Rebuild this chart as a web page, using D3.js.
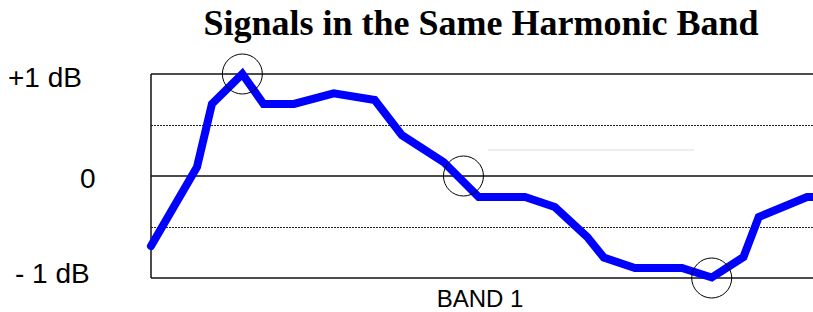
<!DOCTYPE html>
<html>
<head>
<meta charset="utf-8">
<script src="https://cdn.jsdelivr.net/npm/d3@7"></script>
<style>
  html, body { margin: 0; padding: 0; background: #fff; }
  svg { display: block; }
</style>
</head>
<body>
<svg id="chart" width="813" height="312"></svg>
<script>
// ---- data ----
const title = "Signals in the Same Harmonic Band";
const xLabel = "BAND 1";
const signalX = [0, 6.95, 9.2, 13.8, 17.0, 21.6, 27.6, 33.8, 37.9, 44.2, 49.5, 56.5, 61.0, 65.9, 68.4, 73.1, 80.2, 84.7, 89.5, 91.8, 99.1, 100];
const signalDb = [-0.686, 0.088, 0.706, 1.0, 0.706, 0.706, 0.81, 0.745, 0.40, 0.137, -0.206, -0.206, -0.304, -0.598, -0.80, -0.902, -0.902, -0.995, -0.794, -0.402, -0.206, -0.206];
const markerX = [13.8, 47.2, 84.7];
const markerDb = [1, 0, -1];
const tickValues = [1, 0, -1];
const tickLabels = ["+1 dB", "0", "- 1 dB"];
const solidGrid = [1, 0, -1];
const dottedGrid = [0.5, -0.5];
const faintGridDb = 0.255;
const faintGridX = [51, 82];

// ---- layout ----
const svg = d3.select("#chart");
const plotL = 151, plotR = 813, plotT = 74, plotB = 278;
const x = d3.scaleLinear().domain([0, 100]).range([plotL, plotR]);
const y = d3.scaleLinear().domain([-1, 1]).range([plotB, plotT]);

// title
svg.append("text")
  .attr("x", 481).attr("y", 35)
  .attr("text-anchor", "middle")
  .attr("font-family", "'Liberation Serif', 'DejaVu Serif', serif")
  .attr("font-weight", "bold")
  .attr("font-size", 36)
  .attr("fill", "#000")
  .text(title);

// faint gray dotted line
svg.append("line")
  .attr("x1", x(faintGridX[0])).attr("x2", x(faintGridX[1]))
  .attr("y1", y(faintGridDb)).attr("y2", y(faintGridDb))
  .attr("stroke", "#bbbbbb").attr("stroke-width", 1)
  .attr("stroke-dasharray", "1,1");

// dotted grid
svg.selectAll("line.dot").data(dottedGrid).join("line")
  .attr("class", "dot")
  .attr("x1", plotL).attr("x2", plotR)
  .attr("y1", d => Math.round(y(d)) + 0.5).attr("y2", d => Math.round(y(d)) + 0.5)
  .attr("stroke", "#222").attr("stroke-width", 1.2)
  .attr("stroke-dasharray", "2,1");

// solid grid
svg.selectAll("line.solid").data(solidGrid).join("line")
  .attr("class", "solid")
  .attr("x1", plotL).attr("x2", plotR)
  .attr("y1", d => y(d)).attr("y2", d => y(d))
  .attr("stroke", "#111").attr("stroke-width", 1.5);

// left border
svg.append("line")
  .attr("x1", plotL).attr("x2", plotL)
  .attr("y1", y(1)).attr("y2", y(-1))
  .attr("stroke", "#111").attr("stroke-width", 1.5);

// y tick labels
const labelX = [8, 80, 15];
const labelDy = [13, 12, 5];
svg.selectAll("text.tick").data(tickValues).join("text")
  .attr("class", "tick")
  .attr("x", (d, i) => labelX[i])
  .attr("y", (d, i) => y(d) + labelDy[i])
  .attr("font-family", "'Liberation Sans', Arial, sans-serif")
  .attr("font-size", 28)
  .attr("fill", "#000")
  .text((d, i) => tickLabels[i]);

// x label
svg.append("text")
  .attr("x", 480).attr("y", 307)
  .attr("text-anchor", "middle")
  .attr("font-family", "'Liberation Sans', Arial, sans-serif")
  .attr("font-size", 24)
  .attr("fill", "#000")
  .text(xLabel);

// signal line
const pts = signalX.map((v, i) => [v, signalDb[i]]);
svg.append("path")
  .datum(pts)
  .attr("d", d3.line().x(d => x(d[0])).y(d => y(d[1])))
  .attr("fill", "none")
  .attr("stroke", "#0000ff")
  .attr("stroke-width", 8)
  .attr("stroke-linejoin", "miter")
  .attr("stroke-linecap", "round");

// circle markers
svg.selectAll("circle.mark").data(markerX).join("circle")
  .attr("class", "mark")
  .attr("cx", d => x(d))
  .attr("cy", (d, i) => y(markerDb[i]))
  .attr("r", 20)
  .attr("fill", "none")
  .attr("stroke", "#000")
  .attr("stroke-width", 1);
</script>
</body>
</html>
